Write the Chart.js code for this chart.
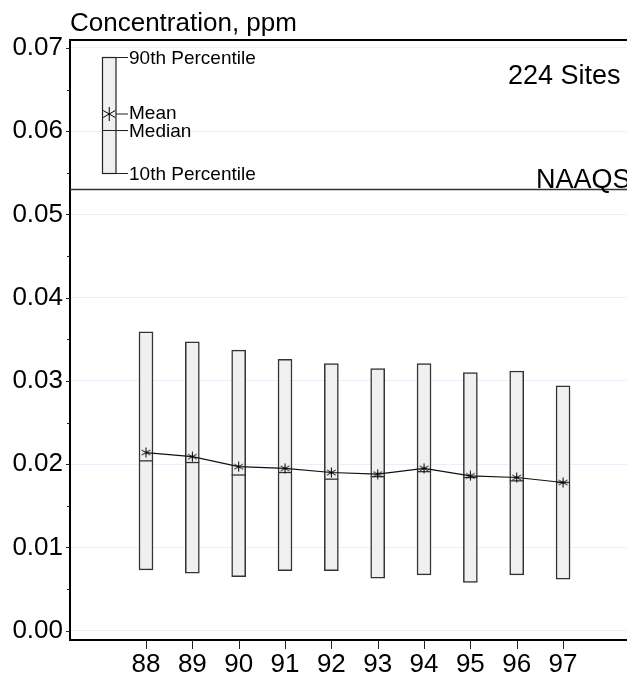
<!DOCTYPE html>
<html>
<head>
<meta charset="utf-8">
<script src="https://cdn.jsdelivr.net/npm/chart.js@4/dist/chart.umd.min.js"></script>
<style>
  html, body { margin: 0; padding: 0; background: #fff; }
  canvas { display: block; }
</style>
</head>
<body>
<canvas id="chart" width="627" height="677"></canvas>
<script>
// Data
const years  = [88, 89, 90, 91, 92, 93, 94, 95, 96, 97];
const p90    = [0.0359, 0.0347, 0.0337, 0.0326, 0.0321, 0.0315, 0.0321, 0.0310, 0.0312, 0.0294];
const p10    = [0.0073, 0.0069, 0.0065, 0.0072, 0.0072, 0.0063, 0.0067, 0.0058, 0.0067, 0.0062];
const median = [0.0204, 0.0202, 0.0187, 0.0190, 0.0182, 0.0185, 0.0191, 0.0184, 0.0180, 0.0178];
const mean   = [0.0214, 0.0209, 0.0197, 0.0195, 0.0190, 0.0188, 0.0195, 0.0186, 0.0184, 0.0178];

const yTicks = [0, 0.005, 0.01, 0.015, 0.02, 0.025, 0.03, 0.035, 0.04, 0.045, 0.05, 0.055, 0.06, 0.065, 0.07];
const naaqs  = 0.053;
const sitesLabel = '224 Sites';

const FONT = '"Liberation Sans", Arial, sans-serif';
const isMajor = v => Math.abs(v * 100 - Math.round(v * 100)) < 1e-6;

/* ── asterisk marker ─────────────────────────────── */
function drawAsterisk(ctx, x, y, r, lw) {
  ctx.save();
  ctx.strokeStyle = '#000';
  ctx.lineWidth = lw;
  ctx.beginPath();
  [90, 30, 150].forEach(a => {
    const dx = Math.cos(a * Math.PI / 180) * r;
    const dy = Math.sin(a * Math.PI / 180) * r;
    ctx.moveTo(x - dx, y - dy);
    ctx.lineTo(x + dx, y + dy);
  });
  ctx.stroke();
  ctx.restore();
}

const starImg = document.createElement('canvas');
starImg.width = 11;
starImg.height = 11;
drawAsterisk(starImg.getContext('2d'), 5.5, 5.5, 5, 1);

/* ── extras: frame, ticks, NAAQS, key, texts ─────── */
const extras = {
  id: 'extras',
  afterDraw(chart) {
    const { ctx, chartArea: a, scales: { x, y } } = chart;
    ctx.save();

    // top frame line
    ctx.strokeStyle = '#000';
    ctx.lineWidth = 2;
    ctx.beginPath();
    ctx.moveTo(a.left - 1, a.top);
    ctx.lineTo(chart.width, a.top);
    ctx.stroke();

    // tick marks
    ctx.lineWidth = 1;
    ctx.strokeStyle = '#222';
    ctx.beginPath();
    yTicks.forEach(v => {
      const py = Math.round(y.getPixelForValue(v)) + 0.5;
      ctx.moveTo(a.left - (isMajor(v) ? 4 : 3), py);
      ctx.lineTo(a.left, py);
    });
    years.forEach(v => {
      const px = Math.round(x.getPixelForValue(v)) + 0.5;
      ctx.moveTo(px, a.bottom);
      ctx.lineTo(px, a.bottom + 9);
    });
    ctx.stroke();

    // NAAQS line
    const ny = y.getPixelForValue(naaqs);
    ctx.strokeStyle = '#333';
    ctx.lineWidth = 1.5;
    ctx.beginPath();
    ctx.moveTo(a.left, ny);
    ctx.lineTo(chart.width, ny);
    ctx.stroke();

    ctx.fillStyle = '#000';
    ctx.textAlign = 'left';
    ctx.textBaseline = 'alphabetic';
    ctx.font = '27px ' + FONT;
    ctx.fillText('NAAQS', 536, ny - 2);
    ctx.fillText(sitesLabel, 508, 84);

    ctx.font = '26px ' + FONT;
    ctx.fillText('Concentration, ppm', 70, 31);

    // key box
    const kx = 102.5, kw = 13.5, kTop = 57.5, kBot = 173.5, kMean = 114, kMed = 130.5;
    ctx.fillStyle = '#f0f0f0';
    ctx.fillRect(kx, kTop, kw, kBot - kTop);
    ctx.strokeStyle = '#222';
    ctx.lineWidth = 1.2;
    ctx.strokeRect(kx, kTop, kw, kBot - kTop);
    ctx.beginPath();
    ctx.moveTo(kx, kMed);
    ctx.lineTo(kx + kw, kMed);
    [kTop, kMean, kMed, kBot].forEach(ly => {
      ctx.moveTo(kx + kw, ly);
      ctx.lineTo(kx + kw + 12, ly);
    });
    ctx.stroke();
    drawAsterisk(ctx, kx + kw / 2, kMean, 7, 1);

    ctx.fillStyle = '#000';
    ctx.font = '19px ' + FONT;
    ctx.textBaseline = 'middle';
    const tx = kx + kw + 13;
    ctx.fillText('90th Percentile', tx, kTop + 1);
    ctx.fillText('Mean', tx, kMean);
    ctx.fillText('Median', tx, kMed + 1);
    ctx.fillText('10th Percentile', tx, kBot + 1);

    ctx.restore();
  }
};

new Chart(document.getElementById('chart'), {
  type: 'bar',
  data: {
    datasets: [
      {
        type: 'line',
        label: 'Mean',
        data: years.map((v, i) => ({ x: v, y: mean[i] })),
        borderColor: '#111',
        borderWidth: 1.2,
        tension: 0,
        pointStyle: starImg,
        pointRadius: 5,
        order: 1,
      },
      {
        type: 'line',
        label: 'Median',
        data: years.map((v, i) => ({ x: v, y: median[i] })),
        showLine: false,
        pointStyle: 'line',
        pointRadius: 7,
        pointBorderWidth: 1.3,
        pointBorderColor: '#333',
        order: 2,
      },
      {
        type: 'bar',
        label: '10th-90th Percentile',
        data: years.map((v, i) => ({ x: v, y: [p10[i], p90[i]] })),
        backgroundColor: '#f0f0f0',
        borderColor: '#333',
        borderWidth: 1.5,
        borderSkipped: false,
        barThickness: 14,
        order: 3,
      },
    ],
  },
  options: {
    responsive: false,
    animation: false,
    layout: { autoPadding: false, padding: { top: 40, left: 0, right: 0, bottom: 0 } },
    plugins: {
      legend: { display: false },
      tooltip: { enabled: false },
    },
    scales: {
      x: {
        type: 'linear',
        min: 86.36,
        max: 98.38,
        offset: false,
        afterBuildTicks: s => { s.ticks = years.map(v => ({ value: v })); },
        afterFit: s => { s.height = 37; s.paddingLeft = 0; s.paddingRight = 0; },
        grid: { display: false, drawTicks: false },
        border: { display: true, color: '#000', width: 2 },
        ticks: {
          padding: 9,
          color: '#000',
          font: { family: FONT, size: 26 },
          callback: v => String(v),
          maxRotation: 0,
          autoSkip: false,
        },
      },
      y: {
        type: 'linear',
        min: -0.00112,
        max: 0.07096,
        afterBuildTicks: s => { s.ticks = yTicks.map(v => ({ value: v })); },
        afterFit: s => { s.width = 70; s.paddingTop = 0; s.paddingBottom = 0; },
        grid: {
          drawTicks: false,
          color: c => (c.tick && isMajor(c.tick.value)) ? '#eeeefa' : 'rgba(0,0,0,0)',
          lineWidth: 1,
        },
        border: { display: true, color: '#000', width: 2 },
        ticks: {
          padding: 7,
          color: '#000',
          font: { family: FONT, size: 26 },
          callback: v => isMajor(v) ? v.toFixed(2) : '',
          autoSkip: false,
        },
      },
    },
  },
  plugins: [extras],
});
</script>
</body>
</html>
